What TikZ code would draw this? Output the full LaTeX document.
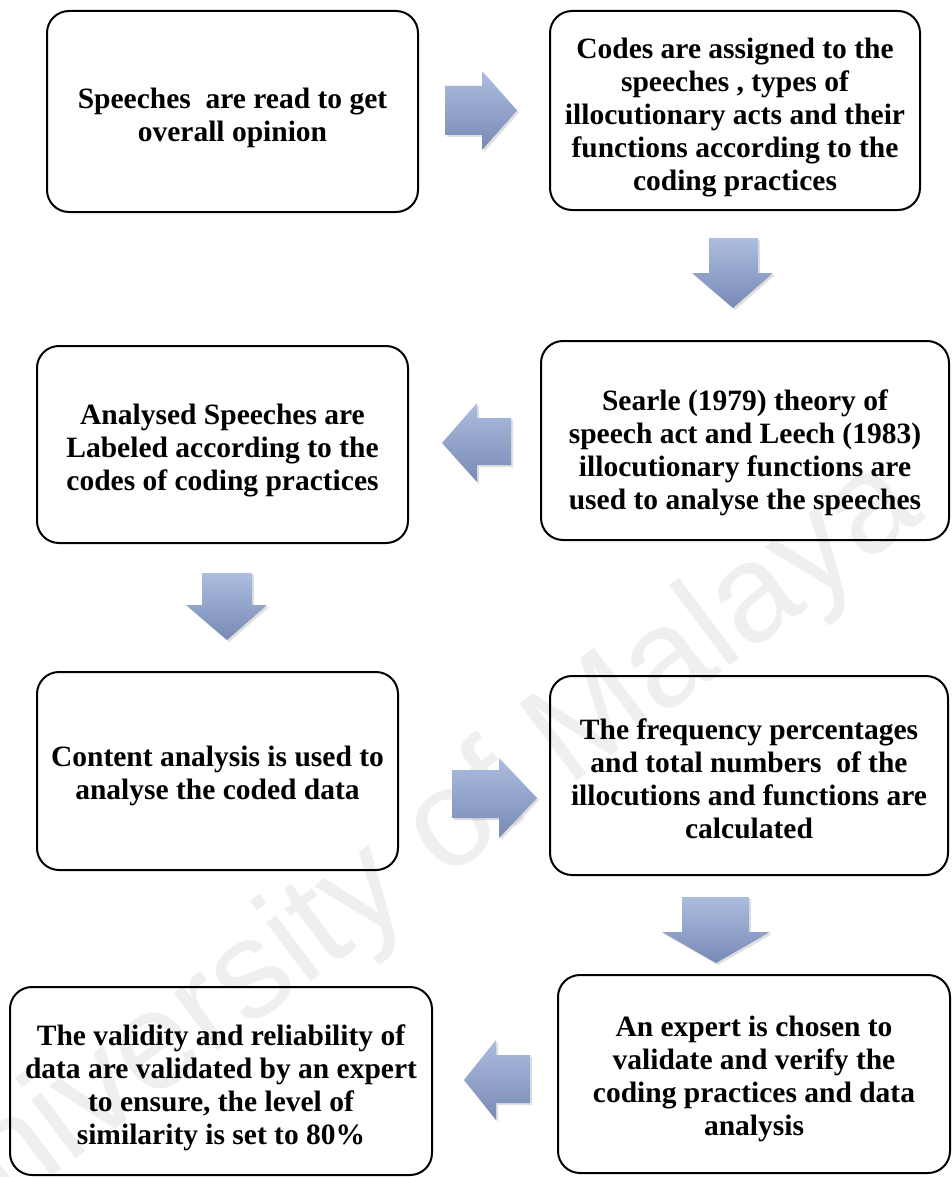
\documentclass[tikz,border=0pt]{standalone}
\usepackage{fontspec}
\setmainfont{Liberation Serif}
\newfontfamily\wmfont{Liberation Sans}
\usetikzlibrary{shadows,calc}
\definecolor{arrtop}{RGB}{172,189,223}
\definecolor{arrbot}{RGB}{120,138,181}
\definecolor{wmgray}{RGB}{239,239,239}
\tikzset{
  box/.style={draw=black, line width=2pt, rounded corners=22pt, inner sep=0pt},
  txt/.style={align=center, font=\fontsize{29.5}{33}\selectfont\bfseries, inner sep=0pt},
  blk/.style={top color=arrtop, bottom color=arrbot, draw=none,
    drop shadow={opacity=0.25, shadow xshift=2pt, shadow yshift=-2pt}},
}
\begin{document}
\begin{tikzpicture}[x=1pt,y=-1pt]
\useasboundingbox (0,0) rectangle (952,1177);
\fill[white] (0,0) rectangle (952,1177);
% watermark
\node[rotate=37, text=wmgray, font=\wmfont\fontsize{139}{139}\selectfont] (wm) at (405,866) {University of Malaya};
% boxes
\node[box, minimum width=371pt, minimum height=201pt] (b1) at (232.5,111.5) {};
\node[box, minimum width=370pt, minimum height=199pt] (b2) at (735,110.5) {};
\node[box, minimum width=408pt, minimum height=199pt] (b3) at (745,440.5) {};
\node[box, minimum width=371pt, minimum height=197pt] (b4) at (222.5,444.5) {};
\node[box, minimum width=361pt, minimum height=198pt] (b5) at (217.5,771) {};
\node[box, minimum width=398pt, minimum height=199pt] (b6) at (749,775.5) {};
\node[box, minimum width=392pt, minimum height=198pt] (b7) at (754,1074) {};
\node[box, minimum width=422pt, minimum height=188pt] (b8) at (221,1081) {};
% texts
\node[txt] (t1) at ($(b1.center)+(0,6)$) {Speeches~ are read to get\\overall opinion};
\node[txt] (t2) at ($(b2.center)+(0,7.5)$) {Codes are assigned to the\\speeches , types of\\illocutionary acts and their\\functions according to the\\coding practices};
\node[txt] (t3) at ($(b3.center)+(0,12)$) {Searle (1979) theory of\\speech act and Leech (1983)\\illocutionary functions are\\used to analyse the speeches};
\node[txt] (t4) at ($(b4.center)+(0,6)$) {Analysed Speeches are\\Labeled according to the\\codes of coding practices};
\node[txt] (t5) at ($(b5.center)+(0,5)$) {Content analysis is used to\\analyse the coded data};
\node[txt] (t6) at ($(b6.center)+(0,3)$) {The frequency percentages\\and total numbers~ of the\\illocutions and functions are\\calculated};
\node[txt] (t7) at ($(b7.center)+(0,5)$) {An expert is chosen to\\validate and verify the\\coding practices and data\\analysis};
\node[txt] (t8) at ($(b8.center)+(0,7)$) {The validity and reliability of\\data are validated by an expert\\to ensure, the level of\\similarity is set to 80\%};
% block arrows
\path[blk] (445,86) -- (482,86) -- (482,71) -- (517,110.5) -- (482,150) -- (482,135) -- (445,135) -- cycle;
\path[blk] (709,238) -- (758,238) -- (758,273) -- (773,273) -- (733,308) -- (692,273) -- (709,273) -- cycle;
\path[blk] (511,418) -- (477,418) -- (477,403) -- (442,443) -- (477,482) -- (477,465) -- (511,465) -- cycle;
\path[blk] (202,573) -- (252,573) -- (252,605) -- (267,605) -- (227,640) -- (186,605) -- (202,605) -- cycle;
\path[blk] (452,770) -- (499,770) -- (499,758) -- (537,798) -- (499,838) -- (499,818) -- (452,818) -- cycle;
\path[blk] (682,897) -- (749,897) -- (749,932) -- (770,932) -- (716,963) -- (662,932) -- (682,932) -- cycle;
\path[blk] (530,1055) -- (496,1055) -- (496,1040) -- (464,1080) -- (496,1120) -- (496,1103) -- (530,1103) -- cycle;
\end{tikzpicture}
\end{document}
